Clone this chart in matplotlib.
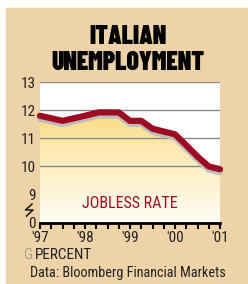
import numpy as np
import matplotlib
matplotlib.use("Agg")
import matplotlib.pyplot as plt
from matplotlib import transforms
from matplotlib.colors import LinearSegmentedColormap
from matplotlib.lines import Line2D

# ---- data ----
dates = [1997.0, 1997.5, 1998.0, 1998.3, 1998.75, 1999.0, 1999.25, 1999.5,
         2000.0, 2000.25, 2000.5, 2000.75, 2001.0]
rate = [11.8, 11.62, 11.8, 11.92, 11.92, 11.62, 11.62, 11.34,
        11.14, 10.75, 10.35, 10.0, 9.9]
year_ticks = [1997, 1998, 1999, 2000, 2001]
year_labels = ["'97", "'98", "'99", "'00", "'01"]
y_ticks = [8, 9, 10, 11, 12, 13]
y_labels = ["0", "9", "10", "11", "12", "13"]
title_lines = ["ITALIAN", "UNEMPLOYMENT"]
series_label = "JOBLESS RATE"
unit_label = "PERCENT"
source = "Data: Bloomberg Financial Markets"

TAN = "#EDD3A7"
RED = "#9E0C22"
NARROW = ["Roboto Condensed", "Archivo Narrow", "DejaVu Sans"]
HEAVY = ["Barlow Condensed", "DejaVu Sans"]

W, H = 248, 284
fig = plt.figure(figsize=(W / 100, H / 100), dpi=100)
fig.patch.set_facecolor("white")

# tan panel
fig.patches.append(plt.Rectangle((6 / W, 0), 1 - 6 / W, 1 - 8 / H,
                                 transform=fig.transFigure, color=TAN, zorder=-1))

ax = fig.add_axes([40 / W, 1 - 222.7 / H, 180 / W, 140.7 / H])
ax.set_zorder(2)
ax.set_facecolor("white")
ax.set_xlim(1997, 2001)
ax.set_ylim(8, 13)

# gradient fill under line
cmap = LinearSegmentedColormap.from_list("g", ["#FFFDF4", "#FDEFC2", "#F9DA80"])
grad = np.linspace(0, 1, 256).reshape(-1, 1)
shadow_tr = transforms.offset_copy(ax.transData, fig=fig, x=0, y=-3, units="dots")
im = ax.imshow(grad, extent=[1997, 2001, 8, 12], origin="lower", aspect="auto",
               cmap=cmap, zorder=1)
poly = ax.fill_between(dates, rate, 7, transform=shadow_tr, color="none", lw=0)
clip_path = poly.get_paths()[0]
im.set_clip_path(clip_path, shadow_tr)

# grid lines
for yv in [10, 11, 12, 13]:
    ax.axhline(yv, color="#8A8A8A", lw=1.0, zorder=2)

# shadow and line
ax.plot(dates, rate, color="#BDBDBD", lw=4.5, solid_capstyle="round",
        solid_joinstyle="round", transform=shadow_tr, zorder=3, clip_on=False)
ax.plot(dates, rate, color=RED, lw=4.5, solid_capstyle="round",
        solid_joinstyle="round", zorder=4, clip_on=False)

# spines / ticks
for s in ["top", "right", "left"]:
    ax.spines[s].set_visible(False)
ax.spines["bottom"].set_linewidth(2.0)
ax.spines["bottom"].set_color("black")
ax.spines["bottom"].set_zorder(6)
ax.set_xticks(year_ticks)
ax.set_xticklabels(year_labels, family=NARROW, fontsize=11, color="#222222")
ax.set_xticks(np.arange(1997, 2001.01, 0.25), minor=True)
ax.tick_params(axis="x", which="both", direction="out", length=4.5, width=1.5,
               color="black", pad=1.5)
ax.set_yticks(y_ticks)
ax.set_yticklabels(y_labels, family=NARROW, fontsize=11, color="#222222")
ax.tick_params(axis="y", length=0, pad=3)

# axis break symbol
xs = np.array([32, 25.5, 33, 26.5])
ys = np.array([204, 210, 210, 216])
fig.add_artist(Line2D(xs / W, 1 - ys / H, transform=fig.transFigure,
                      color="#222222", lw=1.2))

# texts
for txt, base in zip(title_lines, [43.5, 70]):
    fig.text(128 / W, 1 - base / H, txt, ha="center", va="baseline",
             family=HEAVY, fontweight=900, fontsize=18.5, color="black")
ax.text(1999.0, 8.7, series_label, ha="center", va="center", family=NARROW,
        fontsize=11.5, color=RED, zorder=5)
fig.text(24 / W, 1 - 255 / H, "G", ha="left", va="center", family=NARROW,
         fontsize=11, color="#8A8A8A", fontweight=300)
fig.text(35 / W, 1 - 255 / H, unit_label, ha="left", va="center", family=NARROW,
         fontsize=11, color="#222222")
fig.text(30 / W, 1 - 273 / H, source, ha="left", va="center", family=NARROW,
         fontsize=10.3, color="#222222")

fig.savefig("out.png", dpi=100, facecolor=fig.get_facecolor())
